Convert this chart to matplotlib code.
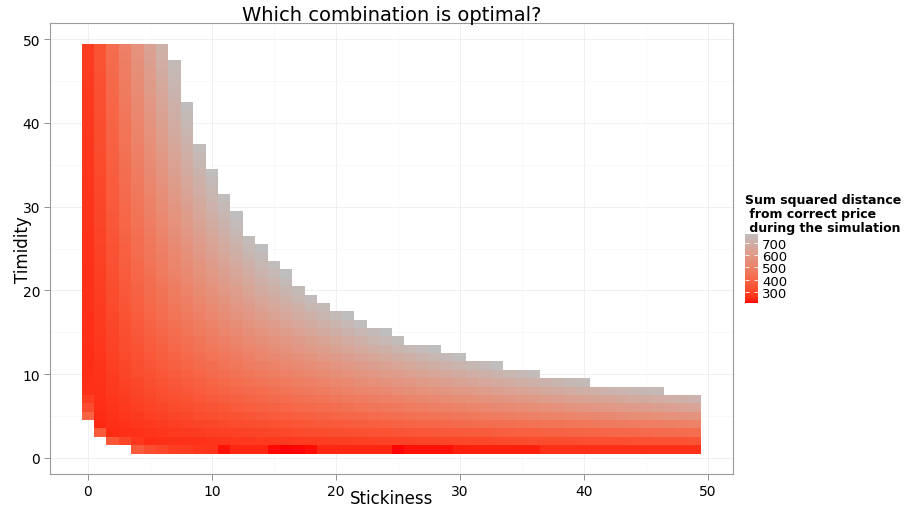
import numpy as np
import matplotlib.pyplot as plt
from matplotlib.colors import ListedColormap

# stickiness runs 0..49, timidity rows 1..49
stickiness = np.arange(50)
timidity = np.arange(1, 50)

# first stickiness value present in each timidity row
row_start = [4, 2, 1, 1] + [0] * 45

# summed squared distance per cell, one list per timidity row (1 -> 49)
row_values = [
    [360, 320, 300, 280, 275, 265, 260, 215, 240, 240, 240, 210, 205, 208, 212, 240, 240, 240, 240, 240,
     240, 208, 215, 215, 215, 215, 228, 228, 228, 228, 228, 228, 228, 250, 250, 250, 250, 250, 250, 250,
     250, 250, 250, 250, 250, 250],
    [350, 300, 265, 248, 251, 253, 256, 258, 260, 263, 265, 267, 270, 272, 274, 276, 278, 280, 283, 285,
     287, 289, 291, 293, 295, 297, 299, 301, 303, 305, 307, 309, 311, 313, 315, 317, 318, 320, 322, 324,
     326, 328, 330, 332, 334, 335, 337, 339],
    [360, 246, 251, 256, 260, 265, 270, 274, 278, 283, 287, 291, 295, 299, 303, 307, 311, 315, 318, 322,
     326, 330, 334, 337, 341, 345, 348, 352, 355, 359, 363, 366, 370, 373, 377, 380, 384, 387, 391, 394,
     397, 401, 404, 408, 411, 414, 418, 421, 424],
    [243, 251, 258, 265, 272, 278, 285, 291, 297, 303, 309, 315, 320, 326, 332, 337, 343, 348, 354, 359,
     364, 370, 375, 380, 385, 391, 396, 401, 406, 411, 416, 421, 426, 431, 436, 441, 446, 450, 455, 460,
     465, 470, 474, 479, 484, 489, 493, 498, 503],
    [390, 246, 256, 265, 274, 283, 291, 299, 307, 315, 322, 330, 337, 345, 352, 359, 366, 373, 380, 387,
     394, 401, 408, 414, 421, 428, 434, 441, 447, 454, 460, 466, 473, 479, 486, 492, 498, 505, 511, 517,
     523, 529, 535, 541, 548, 554, 560, 566, 572, 578],
    [320, 248, 260, 272, 283, 293, 303, 313, 322, 332, 341, 350, 359, 368, 377, 385, 394, 402, 411, 419,
     428, 436, 444, 452, 460, 468, 476, 484, 492, 500, 508, 515, 523, 531, 538, 546, 554, 561, 569, 576,
     584, 591, 598, 606, 613, 620, 628, 635, 642, 649],
    [280, 251, 265, 278, 291, 303, 315, 326, 337, 348, 359, 370, 380, 391, 401, 411, 421, 431, 441, 450,
     460, 470, 479, 489, 498, 508, 517, 526, 535, 545, 554, 563, 572, 581, 590, 598, 607, 616, 625, 634,
     642, 651, 660, 668, 677, 685, 694, 703, 711, 720],
    [255, 253, 270, 285, 299, 313, 326, 339, 352, 364, 377, 389, 401, 413, 424, 436, 447, 458, 470, 481,
     492, 503, 514, 525, 535, 546, 557, 567, 578, 588, 598, 609, 619, 629, 639, 649, 660, 670, 680, 689,
     700, 710, 720, 729, 739, 749, 759],
    [250, 256, 274, 291, 307, 322, 337, 352, 366, 380, 394, 408, 421, 434, 447, 460, 473, 486, 498, 511,
     523, 535, 548, 560, 572, 584, 595, 607, 619, 631, 642, 654, 665, 677, 688, 700, 711, 722, 734, 745,
     756],
    [248, 258, 278, 297, 315, 332, 348, 364, 380, 396, 411, 426, 441, 455, 470, 484, 498, 512, 526, 540,
     554, 567, 581, 594, 607, 620, 634, 647, 660, 672, 685, 698, 711, 724, 736, 749, 762],
    [248, 260, 283, 303, 322, 341, 359, 377, 394, 411, 428, 444, 460, 476, 492, 508, 523, 538, 554, 569,
     584, 598, 613, 628, 642, 657, 671, 685, 700, 714, 728, 742, 756, 770],
    [248, 263, 287, 309, 330, 350, 370, 389, 408, 426, 444, 462, 479, 496, 514, 531, 548, 564, 581, 597,
     613, 629, 645, 661, 677, 692, 708, 724, 739, 755, 770],
    [248, 265, 291, 315, 337, 359, 380, 401, 421, 441, 460, 479, 498, 517, 535, 554, 572, 590, 607, 625,
     642, 660, 677, 694, 711, 728, 745, 762, 778],
    [250, 267, 295, 320, 345, 368, 391, 413, 434, 455, 476, 496, 517, 537, 557, 576, 595, 614, 634, 652,
     671, 689, 708, 727, 745, 763],
    [250, 270, 299, 326, 352, 377, 401, 424, 447, 470, 492, 514, 535, 557, 578, 598, 619, 639, 660, 680,
     700, 720, 739, 759, 778],
    [252, 272, 303, 332, 359, 385, 411, 436, 460, 484, 508, 531, 554, 576, 598, 620, 642, 664, 685, 707,
     728, 749, 770],
    [252, 274, 307, 337, 366, 394, 421, 447, 473, 498, 523, 548, 572, 595, 619, 642, 665, 688, 711, 734,
     756, 778],
    [253, 276, 311, 343, 373, 402, 431, 458, 486, 512, 538, 564, 590, 614, 639, 664, 688, 712, 736, 760],
    [253, 278, 315, 348, 380, 411, 441, 470, 498, 526, 554, 581, 607, 634, 660, 685, 711, 736, 762],
    [254, 280, 318, 354, 387, 419, 450, 481, 511, 540, 569, 597, 625, 652, 680, 707, 734, 760],
    [255, 283, 322, 359, 394, 428, 460, 492, 523, 554, 584, 613, 642, 671, 700, 728, 756],
    [255, 285, 326, 364, 401, 436, 470, 503, 535, 567, 598, 629, 660, 689, 720, 749, 778],
    [256, 287, 330, 370, 408, 444, 479, 514, 548, 581, 613, 645, 677, 708, 739, 770],
    [257, 289, 334, 375, 414, 452, 489, 525, 560, 594, 628, 661, 694, 727, 759],
    [257, 291, 337, 380, 421, 460, 498, 535, 572, 607, 642, 677, 711, 745, 778],
    [258, 293, 341, 385, 428, 468, 508, 546, 584, 620, 657, 692, 728, 763],
    [259, 295, 345, 391, 434, 476, 517, 557, 595, 634, 671, 708, 745],
    [260, 297, 348, 396, 441, 484, 526, 567, 607, 647, 685, 724, 762],
    [260, 299, 352, 401, 447, 492, 535, 578, 619, 660, 700, 739, 778],
    [261, 301, 355, 406, 454, 500, 545, 588, 631, 672, 714, 755],
    [262, 303, 359, 411, 460, 508, 554, 598, 642, 685, 728, 770],
    [263, 305, 363, 416, 466, 515, 563, 609, 654, 698, 742],
    [263, 307, 366, 421, 473, 523, 572, 619, 665, 711, 756],
    [264, 309, 370, 426, 479, 531, 581, 629, 677, 724, 770],
    [265, 311, 373, 431, 486, 538, 590, 639, 688, 736],
    [266, 313, 377, 436, 492, 546, 598, 649, 700, 749],
    [266, 315, 380, 441, 498, 554, 607, 660, 711, 762],
    [267, 317, 384, 446, 505, 561, 616, 670, 722],
    [268, 318, 387, 450, 511, 569, 625, 680, 734],
    [269, 320, 391, 455, 517, 576, 634, 689, 745],
    [270, 322, 394, 460, 523, 584, 642, 700, 756],
    [271, 324, 397, 465, 529, 591, 651, 710, 767],
    [272, 326, 401, 470, 535, 598, 660, 720],
    [273, 328, 404, 474, 541, 606, 668, 729],
    [274, 330, 408, 479, 548, 613, 677, 739],
    [275, 332, 411, 484, 554, 620, 685, 749],
    [276, 334, 414, 489, 560, 628, 694, 759],
    [278, 335, 418, 493, 566, 635, 703],
    [280, 337, 421, 498, 572, 642, 711],
]

legend_ticks = [300, 400, 500, 600, 700]

grid = np.full((len(timidity), len(stickiness)), np.nan)
for i, vals in enumerate(row_values):
    s = row_start[i]
    grid[i, s:s + len(vals)] = vals
grid = np.ma.masked_invalid(grid)


# red -> grey gradient blended in Lab space
def srgb_to_lab(c):
    c = np.asarray(c, float)
    lin = np.where(c <= 0.04045, c / 12.92, ((c + 0.055) / 1.055) ** 2.4)
    m = np.array([[0.4124, 0.3576, 0.1805],
                  [0.2126, 0.7152, 0.0722],
                  [0.0193, 0.1192, 0.9505]])
    xyz = m @ lin / np.array([0.95047, 1.0, 1.08883])
    f = np.where(xyz > 0.008856, np.cbrt(xyz), 7.787 * xyz + 16 / 116)
    return np.array([116 * f[1] - 16, 500 * (f[0] - f[1]), 200 * (f[1] - f[2])])


def lab_to_srgb(lab):
    L, a, b = lab
    fy = (L + 16) / 116
    f = np.array([fy + a / 500, fy, fy - b / 200])
    xyz = np.where(f ** 3 > 0.008856, f ** 3, (f - 16 / 116) / 7.787)
    xyz = xyz * np.array([0.95047, 1.0, 1.08883])
    m = np.array([[3.2406, -1.5372, -0.4986],
                  [-0.9689, 1.8758, 0.0415],
                  [0.0557, -0.2040, 1.0570]])
    lin = m @ xyz
    c = np.where(lin <= 0.0031308, 12.92 * lin, 1.055 * np.clip(lin, 0, None) ** (1 / 2.4) - 0.055)
    return np.clip(c, 0, 1)


low = srgb_to_lab([1.0, 0.0, 0.0])
high = srgb_to_lab([190 / 255, 190 / 255, 190 / 255])
cmap = ListedColormap([lab_to_srgb(low + (high - low) * t) for t in np.linspace(0, 1, 256)])

vmin, vmax = grid.min(), grid.max()

fig = plt.figure(figsize=(9.08, 5.10), dpi=100)
ax = fig.add_axes([50 / 908, 35 / 510, 683 / 908, 451 / 510])

xe = np.append(stickiness - 0.5, stickiness[-1] + 0.5)
ye = np.append(timidity - 0.5, timidity[-1] + 0.5)
mesh = ax.pcolormesh(xe, ye, grid, cmap=cmap, vmin=vmin, vmax=vmax, zorder=2)

ax.set_xlim(-3.05, 52.05)
ax.set_ylim(-1.95, 51.95)
ax.set_xticks(np.arange(0, 51, 10))
ax.set_yticks(np.arange(0, 51, 10))
ax.set_xticks(np.arange(5, 51, 10), minor=True)
ax.set_yticks(np.arange(5, 51, 10), minor=True)
ax.grid(which='major', color='#EEEEEE', linewidth=0.6, zorder=0)
ax.grid(which='minor', color='#F7F7F7', linewidth=0.5, zorder=0)
ax.tick_params(which='minor', length=0)
ax.tick_params(which='major', length=4, width=0.6, color='#7F7F7F', labelsize=10, pad=3)
for sp in ax.spines.values():
    sp.set_color('#9A9A9A')
    sp.set_linewidth(0.8)

fig.text(391.5 / 908, 1 - 21 / 510, 'Which combination is optimal?', fontsize=14,
         ha='center', va='baseline')
ax.set_xlabel('Stickiness', fontsize=12)
ax.xaxis.set_label_coords(0.5, -0.033)
ax.set_ylabel('Timidity', fontsize=12)
ax.yaxis.set_label_coords(-0.027, 0.5)

# colour bar legend
cax = fig.add_axes([745 / 908, 206 / 510, 13 / 908, 69 / 510])
cb = fig.colorbar(mesh, cax=cax, ticks=legend_ticks)
cb.outline.set_visible(False)
cax.tick_params(left=True, right=True, labelleft=False, labelright=True,
                direction='in', color='white', length=3, width=0.6, labelsize=9.5, pad=3)
fig.text(745 / 908, 1 - 194 / 510, 'Sum squared distance\n from correct price\n during the simulation',
         fontsize=9, fontweight='bold', ha='left', va='top', linespacing=1.1)

fig.savefig('out.png', dpi=100)
